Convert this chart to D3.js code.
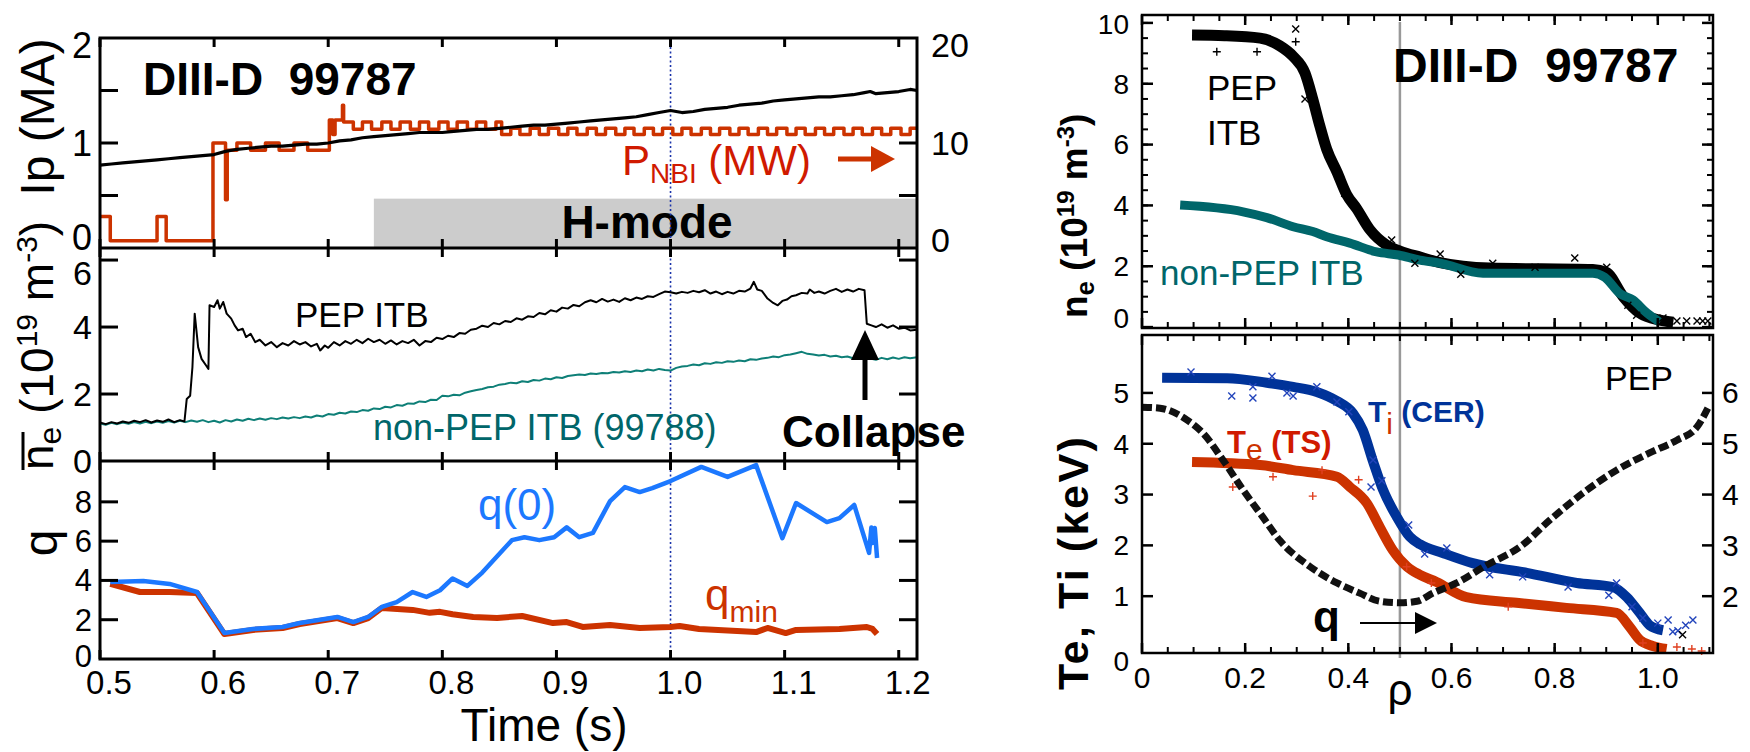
<!DOCTYPE html>
<html>
<head>
<meta charset="utf-8">
<script src="https://cdn.jsdelivr.net/npm/d3@7"></script>
<style>
  body { margin: 0; background: #fff; }
  svg { display: block; font-family: "Liberation Sans", Arial, sans-serif; }
</style>
</head>
<body>
<svg id="chart" width="1750" height="752"></svg>
<script>
// ---------- time traces (shot 99787, non-PEP 99788) ----------
const timeTicks = [0.5, 0.6, 0.7, 0.8, 0.9, 1.0, 1.1, 1.2];
const timeTickLabels = ['0.5', '0.6', '0.7', '0.8', '0.9', '1.0', '1.1', '1.2'];
const ipTickLabels = [0, 1, 2];
const pnbiTickLabels = [0, 10, 20];
const neTickLabels = [0, 2, 4, 6];
const qTickLabels = [0, 2, 4, 6, 8];
const hmodeStart = 0.74;   // s
const hmodeHeight = 0.47;  // MA units of the top panel
const sliceTime = 1.0;

// plasma current (MA)
const ipTrace = [
  [0.50, 0.79], [0.51, 0.80], [0.52, 0.81], [0.53, 0.82], [0.54, 0.83], [0.55, 0.84],
  [0.56, 0.85], [0.57, 0.86], [0.58, 0.87], [0.59, 0.88], [0.60, 0.89], [0.61, 0.92],
  [0.62, 0.94], [0.63, 0.95], [0.64, 0.96], [0.65, 0.97], [0.66, 0.97], [0.67, 0.98],
  [0.68, 0.99], [0.69, 0.99], [0.70, 1.00], [0.71, 1.02], [0.72, 1.03], [0.73, 1.05],
  [0.74, 1.06], [0.75, 1.07], [0.76, 1.08], [0.77, 1.09], [0.78, 1.10], [0.79, 1.10],
  [0.80, 1.10], [0.81, 1.11], [0.82, 1.12], [0.83, 1.13], [0.84, 1.13], [0.85, 1.14],
  [0.86, 1.15], [0.87, 1.16], [0.88, 1.17], [0.89, 1.17], [0.90, 1.18], [0.91, 1.19],
  [0.92, 1.20], [0.93, 1.21], [0.94, 1.22], [0.95, 1.23], [0.96, 1.24], [0.97, 1.25],
  [0.98, 1.27], [0.99, 1.29], [1.00, 1.31], [1.01, 1.29], [1.02, 1.30], [1.03, 1.32],
  [1.04, 1.33], [1.05, 1.34], [1.06, 1.36], [1.07, 1.37], [1.08, 1.38], [1.09, 1.40],
  [1.10, 1.41], [1.11, 1.42], [1.12, 1.43], [1.13, 1.44], [1.14, 1.44], [1.15, 1.45],
  [1.16, 1.46], [1.17, 1.48], [1.175, 1.49], [1.18, 1.47], [1.19, 1.48], [1.20, 1.49],
  [1.21, 1.51], [1.216, 1.50]
];

// neutral beam power (MW), step changes
const pnbiSteps = [
  [0.500, 3.0], [0.509, 0.7], [0.550, 3.0], [0.558, 0.7], [0.599, 10.0], [0.610, 4.6],
  [0.6115, 9.3], [0.620, 10.0], [0.632, 9.3], [0.645, 10.0], [0.657, 9.3], [0.670, 10.0],
  [0.682, 9.3], [0.701, 12.2], [0.704, 10.8], [0.706, 12.2], [0.7125, 13.6], [0.7135, 12.0],
  [0.722, 11.3], [0.730, 12.0], [0.738, 11.3], [0.747, 12.0], [0.755, 11.3], [0.763, 12.0],
  [0.772, 11.3], [0.780, 12.0], [0.788, 11.3], [0.797, 12.0], [0.805, 11.3], [0.813, 12.0],
  [0.822, 11.3], [0.830, 12.0], [0.838, 11.3], [0.847, 12.0], [0.852, 10.8], [0.860, 11.4],
  [0.868, 10.8], [0.877, 11.4], [0.885, 10.8], [0.893, 11.4], [0.902, 10.8], [0.910, 11.4],
  [0.918, 10.8], [0.927, 11.4], [0.935, 10.8], [0.943, 11.4], [0.952, 10.8], [0.960, 11.4],
  [0.968, 10.8], [0.977, 11.4], [0.985, 10.8], [0.993, 11.4], [1.002, 10.8], [1.010, 11.4],
  [1.018, 10.8], [1.027, 11.4], [1.035, 10.8], [1.043, 11.4], [1.052, 10.8], [1.060, 11.4],
  [1.068, 10.8], [1.077, 11.4], [1.085, 10.8], [1.093, 11.4], [1.102, 10.8], [1.110, 11.4],
  [1.118, 10.8], [1.127, 11.4], [1.135, 10.8], [1.143, 11.4], [1.152, 10.8], [1.160, 11.4],
  [1.168, 10.8], [1.177, 11.4], [1.185, 10.8], [1.193, 11.4], [1.202, 10.8], [1.210, 11.4],
  [1.216, 11.4]
];

// line-averaged density (1e19 m-3)
const neLinePep = [
  [0.500, 1.15], [0.505, 1.10], [0.510, 1.16], [0.515, 1.12], [0.520, 1.18], [0.525, 1.14],
  [0.530, 1.20], [0.535, 1.16], [0.540, 1.22], [0.545, 1.15], [0.550, 1.21], [0.555, 1.17],
  [0.560, 1.24], [0.565, 1.16], [0.570, 1.22], [0.574, 1.18], [0.576, 1.85], [0.579, 1.95],
  [0.581, 2.80], [0.583, 4.40], [0.586, 3.40], [0.589, 3.05], [0.593, 2.85], [0.595, 2.75],
  [0.596, 4.65], [0.600, 4.60], [0.603, 4.80], [0.605, 4.55], [0.608, 4.75], [0.611, 4.40],
  [0.615, 4.25], [0.618, 4.05], [0.621, 3.90], [0.625, 3.95], [0.628, 3.70], [0.632, 3.80],
  [0.636, 3.55], [0.640, 3.62], [0.645, 3.45], [0.650, 3.55], [0.655, 3.40], [0.660, 3.52],
  [0.665, 3.45], [0.670, 3.58], [0.675, 3.48], [0.680, 3.55], [0.685, 3.42], [0.690, 3.50],
  [0.693, 3.30], [0.697, 3.45], [0.700, 3.38], [0.705, 3.55], [0.710, 3.45], [0.715, 3.58],
  [0.720, 3.50], [0.725, 3.62], [0.730, 3.52], [0.735, 3.65], [0.740, 3.55], [0.745, 3.62],
  [0.750, 3.50], [0.755, 3.60], [0.760, 3.48], [0.765, 3.58], [0.770, 3.52], [0.775, 3.62],
  [0.780, 3.45], [0.785, 3.58], [0.790, 3.55], [0.795, 3.68], [0.800, 3.64], [0.805, 3.74],
  [0.810, 3.70], [0.815, 3.82], [0.820, 3.80], [0.825, 3.92], [0.830, 3.95], [0.835, 4.04],
  [0.840, 4.00], [0.845, 4.12], [0.850, 4.08], [0.855, 4.18], [0.860, 4.15], [0.865, 4.26],
  [0.870, 4.22], [0.875, 4.32], [0.880, 4.30], [0.885, 4.42], [0.890, 4.38], [0.895, 4.50],
  [0.900, 4.46], [0.905, 4.58], [0.910, 4.55], [0.915, 4.66], [0.920, 4.62], [0.925, 4.74],
  [0.930, 4.80], [0.935, 4.74], [0.940, 4.84], [0.945, 4.76], [0.950, 4.82], [0.955, 4.75],
  [0.960, 4.86], [0.965, 4.80], [0.970, 4.88], [0.975, 4.84], [0.980, 4.92], [0.985, 4.90],
  [0.990, 4.98], [0.995, 5.06], [1.000, 5.04], [1.005, 5.00], [1.010, 5.05], [1.015, 5.02],
  [1.020, 5.08], [1.025, 5.04], [1.030, 5.10], [1.035, 5.00], [1.040, 5.06], [1.045, 4.98],
  [1.050, 5.05], [1.055, 5.00], [1.060, 5.08], [1.065, 5.06], [1.070, 5.15], [1.073, 5.35],
  [1.076, 5.12], [1.080, 5.08], [1.085, 4.85], [1.090, 4.72], [1.094, 4.65], [1.098, 4.78],
  [1.102, 4.82], [1.106, 4.92], [1.110, 4.95], [1.115, 5.02], [1.120, 5.00], [1.122, 5.12],
  [1.126, 5.02], [1.130, 5.06], [1.135, 5.00], [1.140, 5.08], [1.145, 5.14], [1.150, 5.05],
  [1.155, 5.12], [1.160, 5.06], [1.165, 5.14], [1.170, 5.10], [1.172, 4.10], [1.176, 4.05],
  [1.180, 4.00], [1.185, 4.08], [1.190, 3.98], [1.195, 4.05], [1.200, 3.95], [1.205, 3.98],
  [1.210, 3.90], [1.216, 3.92]
];

const neLineNonPep = [
  [0.500, 1.12], [0.505, 1.08], [0.510, 1.14], [0.515, 1.10], [0.520, 1.15], [0.525, 1.11],
  [0.530, 1.16], [0.535, 1.12], [0.540, 1.17], [0.545, 1.13], [0.550, 1.18], [0.555, 1.14],
  [0.560, 1.19], [0.565, 1.15], [0.570, 1.20], [0.575, 1.16], [0.580, 1.21], [0.585, 1.17],
  [0.590, 1.22], [0.595, 1.16], [0.600, 1.20], [0.605, 1.15], [0.610, 1.22], [0.615, 1.18],
  [0.620, 1.24], [0.625, 1.20], [0.630, 1.26], [0.635, 1.22], [0.640, 1.27], [0.645, 1.23],
  [0.650, 1.28], [0.655, 1.25], [0.660, 1.30], [0.665, 1.27], [0.670, 1.31], [0.675, 1.28],
  [0.680, 1.33], [0.685, 1.30], [0.690, 1.36], [0.695, 1.33], [0.700, 1.40], [0.705, 1.38],
  [0.710, 1.44], [0.715, 1.42], [0.720, 1.48], [0.725, 1.46], [0.730, 1.52], [0.735, 1.50],
  [0.740, 1.57], [0.745, 1.55], [0.750, 1.62], [0.755, 1.60], [0.760, 1.67], [0.765, 1.65],
  [0.770, 1.72], [0.775, 1.71], [0.780, 1.78], [0.785, 1.76], [0.790, 1.83], [0.795, 1.82],
  [0.800, 1.95], [0.805, 1.93], [0.810, 1.98], [0.815, 1.96], [0.820, 2.04], [0.825, 2.08],
  [0.830, 2.12], [0.835, 2.15], [0.840, 2.20], [0.845, 2.22], [0.850, 2.28], [0.855, 2.30],
  [0.860, 2.34], [0.865, 2.32], [0.870, 2.38], [0.875, 2.36], [0.880, 2.42], [0.885, 2.40],
  [0.890, 2.46], [0.895, 2.44], [0.900, 2.50], [0.905, 2.48], [0.910, 2.54], [0.915, 2.56],
  [0.920, 2.58], [0.925, 2.57], [0.930, 2.61], [0.935, 2.60], [0.940, 2.63], [0.945, 2.62],
  [0.950, 2.66], [0.955, 2.64], [0.960, 2.68], [0.965, 2.66], [0.970, 2.70], [0.975, 2.68],
  [0.980, 2.73], [0.985, 2.70], [0.990, 2.75], [0.995, 2.72], [1.000, 2.70], [1.005, 2.78],
  [1.010, 2.82], [1.015, 2.84], [1.020, 2.88], [1.025, 2.86], [1.030, 2.92], [1.035, 2.90],
  [1.040, 2.95], [1.045, 2.93], [1.050, 2.98], [1.055, 2.96], [1.060, 3.00], [1.065, 2.98],
  [1.070, 3.04], [1.075, 3.02], [1.080, 3.06], [1.085, 3.08], [1.090, 3.12], [1.095, 3.10],
  [1.100, 3.16], [1.105, 3.18], [1.110, 3.22], [1.115, 3.26], [1.120, 3.20], [1.125, 3.18],
  [1.130, 3.15], [1.135, 3.17], [1.140, 3.12], [1.145, 3.14], [1.150, 3.10], [1.155, 3.12],
  [1.160, 3.07], [1.165, 3.09], [1.170, 3.04], [1.175, 3.06], [1.180, 3.02], [1.185, 3.08],
  [1.190, 3.04], [1.195, 3.09], [1.200, 3.05], [1.205, 3.10], [1.210, 3.07], [1.216, 3.10]
];

// safety factor on axis and minimum
const q0Trace = [
  [0.509, 3.92], [0.538, 3.97], [0.561, 3.82], [0.585, 3.41], [0.609, 1.32], [0.634, 1.53],
  [0.660, 1.63], [0.675, 1.83], [0.708, 2.14], [0.722, 1.88], [0.735, 2.14], [0.747, 2.65],
  [0.760, 2.90], [0.774, 3.41], [0.786, 3.16], [0.798, 3.50], [0.809, 4.10], [0.822, 3.72],
  [0.835, 4.40], [0.861, 6.05], [0.872, 6.20], [0.885, 6.05], [0.898, 6.20], [0.909, 6.70],
  [0.920, 6.20], [0.932, 6.42], [0.947, 8.04], [0.960, 8.75], [0.973, 8.50], [0.984, 8.70],
  [1.000, 9.06], [1.027, 9.78], [1.050, 9.27], [1.075, 9.87], [1.098, 6.15], [1.110, 7.94],
  [1.137, 6.97], [1.148, 7.17], [1.161, 7.84], [1.174, 5.40], [1.176, 6.70], [1.177, 5.90],
  [1.179, 6.67], [1.181, 5.14]
];

const qminTrace = [
  [0.509, 3.82], [0.535, 3.41], [0.561, 3.41], [0.585, 3.36], [0.609, 1.27], [0.634, 1.48],
  [0.660, 1.58], [0.675, 1.78], [0.708, 2.08], [0.722, 1.83], [0.735, 2.08], [0.747, 2.60],
  [0.774, 2.50], [0.789, 2.35], [0.798, 2.40], [0.809, 2.28], [0.827, 2.14], [0.848, 2.09],
  [0.870, 2.19], [0.897, 1.83], [0.909, 1.88], [0.923, 1.63], [0.947, 1.73], [0.973, 1.58],
  [1.000, 1.63], [1.008, 1.68], [1.025, 1.53], [1.075, 1.37], [1.085, 1.58], [1.101, 1.32],
  [1.110, 1.48], [1.148, 1.53], [1.172, 1.63], [1.177, 1.53], [1.181, 1.27]
];

// ---------- profiles at t = 1.0 s ----------
const rhoTicks = [0, 0.2, 0.4, 0.6, 0.8, 1.0];
const rhoTickLabels = ['0', '0.2', '0.4', '0.6', '0.8', '1.0'];
const neProfTickLabels = [0, 2, 4, 6, 8, 10];
const tempTickLabels = [0, 1, 2, 3, 4, 5];
const qProfTickLabels = [2, 3, 4, 5, 6];
const sliceRho = 0.5;

const neProfPep = [
  [0.097, 9.60], [0.160, 9.58], [0.229, 9.50], [0.267, 9.25], [0.293, 8.90], [0.316, 8.35],
  [0.331, 7.50], [0.345, 6.60], [0.358, 5.85], [0.378, 5.10], [0.397, 4.35], [0.416, 3.90],
  [0.442, 3.20], [0.474, 2.70], [0.500, 2.50], [0.539, 2.30], [0.578, 2.12], [0.674, 1.94],
  [0.874, 1.89], [0.900, 1.80], [0.933, 1.00], [0.965, 0.46], [1.004, 0.23], [1.030, 0.16]
];
const neProfNonPep = [
  [0.074, 4.01], [0.196, 3.79], [0.242, 3.60], [0.293, 3.30], [0.331, 3.14], [0.358, 2.97],
  [0.403, 2.76], [0.455, 2.47], [0.497, 2.37], [0.539, 2.20], [0.578, 2.10], [0.661, 1.77],
  [0.874, 1.77], [0.897, 1.64], [0.926, 1.11], [0.952, 0.89], [0.979, 0.46], [1.004, 0.16]
];
// Thomson points: [rho, ne, marker]
const nePoints = [
  [0.145, 9.05, '+'], [0.223, 9.05, '+'], [0.298, 9.80, 'x'], [0.298, 9.38, '+'],
  [0.316, 7.50, 'x'], [0.393, 4.40, 'x'], [0.484, 2.86, 'x'], [0.529, 2.10, 'x'],
  [0.578, 2.40, 'x'], [0.618, 1.74, 'x'], [0.680, 2.10, 'x'], [0.762, 1.97, 'x'],
  [0.839, 2.27, 'x'], [0.901, 1.97, 'x'], [0.942, 0.72, 'x'], [0.959, 0.39, 'x'],
  [1.010, 0.30, 'x'], [1.037, 0.20, 'x'], [1.056, 0.20, 'x'], [1.076, 0.20, 'x'],
  [1.087, 0.20, 'x'], [1.097, 0.20, 'x']
];

const tiProf = [
  [0.039, 5.30], [0.165, 5.29], [0.242, 5.20], [0.293, 5.12], [0.339, 5.02], [0.378, 4.84],
  [0.409, 4.60], [0.428, 4.27], [0.448, 3.65], [0.467, 3.10], [0.494, 2.56], [0.519, 2.17],
  [0.539, 2.02], [0.583, 1.85], [0.641, 1.65], [0.746, 1.46], [0.843, 1.26], [0.913, 1.18],
  [0.940, 0.98], [0.965, 0.67], [0.984, 0.43], [1.010, 0.33]
];
const teProf = [
  [0.097, 3.64], [0.229, 3.58], [0.293, 3.48], [0.378, 3.35], [0.403, 3.15], [0.436, 2.83],
  [0.461, 2.36], [0.486, 1.91], [0.514, 1.58], [0.539, 1.42], [0.571, 1.28], [0.629, 0.98],
  [0.726, 0.87], [0.823, 0.77], [0.920, 0.67], [0.946, 0.39], [0.965, 0.14], [0.990, 0.02],
  [1.017, -0.04]
];
const qProf = [
  [0.000, 5.72], [0.035, 5.70], [0.087, 5.47], [0.118, 5.21], [0.157, 4.68], [0.196, 4.09],
  [0.234, 3.56], [0.267, 3.10], [0.326, 2.58], [0.378, 2.26], [0.422, 2.06], [0.461, 1.90],
  [0.500, 1.87], [0.533, 1.90], [0.564, 2.06], [0.610, 2.26], [0.668, 2.61], [0.733, 2.97],
  [0.791, 3.50], [0.855, 4.03], [0.920, 4.48], [0.984, 4.82], [1.037, 5.07], [1.076, 5.33],
  [1.100, 5.76]
];
const tiPoints = [
  [0.095, 5.41], [0.174, 4.94], [0.215, 5.12], [0.215, 4.90], [0.252, 5.33], [0.281, 5.00],
  [0.293, 4.94], [0.339, 5.12], [0.378, 4.82], [0.401, 4.63], [0.448, 3.68], [0.444, 3.15],
  [0.465, 3.27], [0.517, 2.40], [0.548, 1.83], [0.591, 1.95], [0.674, 1.42], [0.738, 1.38],
  [0.826, 1.18], [0.905, 1.02], [0.920, 1.26], [0.950, 0.79], [0.971, 0.57], [1.000, 0.47],
  [1.020, 0.53], [1.029, 0.30], [1.039, 0.32], [1.054, 0.43], [1.068, 0.53]
];
const tePoints = [
  [0.176, 3.15], [0.254, 3.35], [0.331, 2.97], [0.349, 3.48], [0.420, 3.29], [0.513, 1.58],
  [0.561, 1.26], [0.710, 0.79], [0.971, 0.08], [1.037, 0.00], [1.066, -0.04], [1.085, -0.08]
];
const edgePoints = [[1.048, 0.24]];

// ---------- colours ----------
const RED = '#cc3300';
const LABEL_RED = '#d01a00';
const BLUE_Q = '#1c78ff';
const TEAL = '#0e7f77';
const TEAL_DARK = '#00666a';
const TI_BLUE = '#003399';

const svg = d3.select('#chart');

// ---------- scales ----------
const tX = d3.scaleLinear().domain([0.5, 1.216]).range([100, 917]);
const ipY = d3.scaleLinear().domain([0, 2]).range([248, 38]);
const pY = d3.scaleLinear().domain([0, 20]).range([248, 38]);
const neY = d3.scaleLinear().domain([0, 6.36]).range([461, 248]);
const qY = d3.scaleLinear().domain([0, 10.08]).range([659, 461]);

const rX = d3.scaleLinear().domain([0, 1.107]).range([1142, 1713]);
const nepY = d3.scaleLinear().domain([-0.03, 10.26]).range([328, 15]);
const tY = d3.scaleLinear().domain([-0.118, 6.14]).range([653, 335]);
const qpY = d3.scaleLinear().domain([0.882, 7.14]).range([653, 335]);

// ---------- helpers ----------
function trace(g, data, xs, ys, color, width, curve) {
  return g.append('path')
    .datum(data)
    .attr('fill', 'none')
    .attr('stroke', color)
    .attr('stroke-width', width)
    .attr('stroke-linejoin', 'round')
    .attr('d', d3.line().x(d => xs(d[0])).y(d => ys(d[1])).curve(curve || d3.curveLinear));
}

function vTicks(g, values, xs, y, len, w) {
  g.append('g').selectAll('line').data(values).join('line')
    .attr('x1', d => xs(d)).attr('x2', d => xs(d))
    .attr('y1', y).attr('y2', y + len)
    .attr('stroke', '#000').attr('stroke-width', w);
}

function hTicks(g, values, ys, x, len, w) {
  g.append('g').selectAll('line').data(values).join('line')
    .attr('y1', d => ys(d)).attr('y2', d => ys(d))
    .attr('x1', x).attr('x2', x + len)
    .attr('stroke', '#000').attr('stroke-width', w);
}

function yLabels(g, values, ys, x, anchor, size, nudge) {
  g.append('g').selectAll('text').data(values).join('text')
    .attr('x', x)
    .attr('y', d => ys(d) + ((nudge && nudge[d]) || 0))
    .attr('dy', '0.35em')
    .attr('text-anchor', anchor)
    .attr('font-size', size)
    .text(d => d);
}

function frame(g, x0, y0, x1, y1, w) {
  g.append('rect')
    .attr('x', x0).attr('y', y0)
    .attr('width', x1 - x0).attr('height', y1 - y0)
    .attr('fill', 'none').attr('stroke', '#000').attr('stroke-width', w);
}

function markPath(cx, cy, type) {
  const s = type === '+' ? 4 : 3.5;
  if (type === '+') return `M${cx - s},${cy}H${cx + s}M${cx},${cy - s}V${cy + s}`;
  return `M${cx - s},${cy - s}L${cx + s},${cy + s}M${cx - s},${cy + s}L${cx + s},${cy - s}`;
}

function marks(g, pts, xs, ys, color, type) {
  g.append('g').selectAll('path').data(pts).join('path')
    .attr('d', d => markPath(xs(d[0]), ys(d[1]), d[2] || type))
    .attr('stroke', color).attr('stroke-width', 1.4).attr('fill', 'none');
}

function arrowHead(g, pts, color) {
  g.append('polygon').attr('points', pts.map(p => p.join(',')).join(' ')).attr('fill', color);
}

// =========================================================
// left column: time traces
// =========================================================
const left = svg.append('g');

// H-mode band
left.append('rect')
  .attr('x', tX(hmodeStart)).attr('y', ipY(hmodeHeight))
  .attr('width', tX.range()[1] - tX(hmodeStart))
  .attr('height', ipY(0) - ipY(hmodeHeight))
  .attr('fill', '#cccccc');
left.append('text')
  .attr('x', 647).attr('y', 238)
  .attr('text-anchor', 'middle')
  .attr('font-size', 46).attr('font-weight', 'bold')
  .text('H-mode');

// dotted line at the profile time
left.append('line')
  .attr('x1', tX(sliceTime)).attr('x2', tX(sliceTime))
  .attr('y1', ipY(2)).attr('y2', qY(0))
  .attr('stroke', '#1a33aa').attr('stroke-width', 1.6)
  .attr('stroke-dasharray', '2,2.5');

trace(left, pnbiSteps, tX, pY, RED, 3.5, d3.curveStepAfter);
trace(left, ipTrace, tX, ipY, '#000', 3.2);
trace(left, neLineNonPep, tX, neY, TEAL, 2);
trace(left, neLinePep, tX, neY, '#000', 2);
trace(left, qminTrace, tX, qY, RED, 6);
trace(left, q0Trace, tX, qY, BLUE_Q, 4.5);

// frames and ticks
const panelEdges = [ipY(2), ipY(0), neY(0), qY(0)];
frame(left, 100, panelEdges[0], 917, panelEdges[3], 3);
[1, 2].forEach(i => {
  left.append('line').attr('x1', 100).attr('x2', 917)
    .attr('y1', panelEdges[i]).attr('y2', panelEdges[i])
    .attr('stroke', '#000').attr('stroke-width', 3);
});
panelEdges.forEach((y, i) => {
  if (i > 0) vTicks(left, timeTicks, tX, y, -9, 3);
  if (i < 3) vTicks(left, timeTicks, tX, y, 9, 3);
});
hTicks(left, [0.5, 1, 1.5], ipY, 100, 18, 3);
hTicks(left, [5, 10], pY, 917, -18, 3);
hTicks(left, [2, 4, 6], neY, 100, 18, 3);
hTicks(left, [2, 4, 6], neY, 917, -18, 3);
hTicks(left, [2, 4, 6, 8], qY, 100, 18, 3);
hTicks(left, [2, 4, 6, 8], qY, 917, -18, 3);

// tick labels
yLabels(left, ipTickLabels, ipY, 92, 'end', 36, {0: -11, 2: 7});
yLabels(left, pnbiTickLabels, pY, 931, 'start', 34, {0: -8, 20: 7});
yLabels(left, neTickLabels, neY, 92, 'end', 34, {6: 13});
yLabels(left, qTickLabels, qY, 92, 'end', 31, {0: -3});
left.append('g').selectAll('text').data(timeTicks).join('text')
  .attr('x', d => tX(d) + 9).attr('y', 694)
  .attr('text-anchor', 'middle').attr('font-size', 33)
  .text((d, i) => timeTickLabels[i]);
left.append('text')
  .attr('x', 544).attr('y', 741)
  .attr('text-anchor', 'middle').attr('font-size', 46)
  .text('Time (s)');

// rotated axis titles
left.append('text')
  .attr('transform', 'translate(54,117) rotate(-90)')
  .attr('text-anchor', 'middle').attr('font-size', 48)
  .style('white-space', 'pre')
  .text('Ip (MA)');
const neTitle = left.append('text')
  .attr('transform', 'translate(53,470) rotate(-90)')
  .attr('font-size', 46).style('white-space', 'pre');
neTitle.append('tspan').text('n');
neTitle.append('tspan').attr('font-size', 32).attr('dy', 8).text('e');
neTitle.append('tspan').attr('dy', -8).text(' (10');
neTitle.append('tspan').attr('font-size', 30).attr('dy', -16).text('19');
neTitle.append('tspan').attr('dy', 16).text(' m');
neTitle.append('tspan').attr('font-size', 30).attr('dy', -16).text('-3');
neTitle.append('tspan').attr('dy', 16).text(')');
left.append('line')
  .attr('x1', 23).attr('x2', 23).attr('y1', 470).attr('y2', 432)
  .attr('stroke', '#000').attr('stroke-width', 3);
left.append('text')
  .attr('transform', 'translate(57,543) rotate(-90)')
  .attr('text-anchor', 'middle').attr('font-size', 48)
  .text('q');

// annotations
left.append('text')
  .attr('x', 143).attr('y', 95)
  .attr('font-size', 46).attr('font-weight', 'bold')
  .style('white-space', 'pre')
  .text('DIII-D  99787');

const pLab = left.append('text').attr('x', 622).attr('y', 175)
  .attr('font-size', 42).attr('fill', LABEL_RED).style('white-space', 'pre');
pLab.append('tspan').text('P');
pLab.append('tspan').attr('font-size', 28).attr('dy', 8).text('NBI');
pLab.append('tspan').attr('dy', -8).text(' (MW)');
left.append('line').attr('x1', 838).attr('x2', 874).attr('y1', 159).attr('y2', 159)
  .attr('stroke', RED).attr('stroke-width', 5);
arrowHead(left, [[871, 146], [895, 159], [871, 172]], RED);

left.append('text')
  .attr('x', 295).attr('y', 327)
  .attr('font-size', 35)
  .text('PEP ITB');
left.append('text')
  .attr('x', 373).attr('y', 440)
  .attr('font-size', 36).attr('fill', TEAL_DARK)
  .text('non-PEP ITB (99788)');
left.append('text')
  .attr('x', 782).attr('y', 447)
  .attr('font-size', 44).attr('font-weight', 'bold')
  .text('Collapse');
left.append('line').attr('x1', 865).attr('x2', 865).attr('y1', 400).attr('y2', 356)
  .attr('stroke', '#000').attr('stroke-width', 5);
arrowHead(left, [[851, 360], [865, 330], [879, 360]], '#000');

left.append('text')
  .attr('x', 478).attr('y', 520)
  .attr('font-size', 44).attr('fill', BLUE_Q)
  .text('q(0)');
const qminLab = left.append('text').attr('x', 705).attr('y', 610)
  .attr('font-size', 44).attr('fill', RED);
qminLab.append('tspan').text('q');
qminLab.append('tspan').attr('font-size', 30).attr('dy', 12).text('min');

// =========================================================
// right column: profiles
// =========================================================
const right = svg.append('g');

// rho = 0.5 marker line
right.append('line')
  .attr('x1', rX(sliceRho)).attr('x2', rX(sliceRho))
  .attr('y1', 22).attr('y2', 658)
  .attr('stroke', '#999').attr('stroke-width', 2.5);

// density
trace(right, neProfPep, rX, nepY, '#000', 11, d3.curveMonotoneX).attr('stroke-linecap', 'butt');
trace(right, neProfNonPep, rX, nepY, TEAL_DARK, 9, d3.curveMonotoneX);
marks(right, nePoints, rX, nepY, '#000');

// temperatures and q
trace(right, teProf, rX, tY, RED, 10, d3.curveMonotoneX);
trace(right, tiProf, rX, tY, TI_BLUE, 10, d3.curveMonotoneX);
marks(right, tiPoints, rX, tY, '#2244bb', 'x');
marks(right, tePoints, rX, tY, '#e04020', '+');
marks(right, edgePoints, rX, tY, '#000', 'x');
trace(right, qProf, rX, qpY, '#111', 7, d3.curveMonotoneX).attr('stroke-dasharray', '10,4');

// frames
frame(right, 1142, 15, 1713, 328, 2.5);
frame(right, 1142, 335, 1713, 653, 2.5);

// ticks
const rhoMinor = rX.ticks(22);
vTicks(right, rhoMinor, rX, 15, 6, 2);
vTicks(right, rhoMinor, rX, 328, -6, 2);
vTicks(right, rhoMinor, rX, 335, 6, 2);
vTicks(right, rhoMinor, rX, 653, -6, 2);
vTicks(right, rhoTicks, rX, 15, 10, 2.5);
vTicks(right, rhoTicks, rX, 328, -10, 2.5);
vTicks(right, rhoTicks, rX, 335, 10, 2.5);
vTicks(right, rhoTicks, rX, 653, -10, 2.5);
const neMinor = d3.range(0, 10.01, 0.5);
hTicks(right, neMinor, nepY, 1142, 6, 2);
hTicks(right, neMinor, nepY, 1713, -6, 2);
hTicks(right, neProfTickLabels, nepY, 1142, 11, 2.5);
hTicks(right, neProfTickLabels, nepY, 1713, -11, 2.5);
hTicks(right, [1, 2, 3, 4, 5], tY, 1142, 11, 2.5);
hTicks(right, qProfTickLabels, qpY, 1713, -11, 2.5);

// tick labels
yLabels(right, neProfTickLabels, nepY, 1129, 'end', 28, {0: -9, 10: 1});
yLabels(right, tempTickLabels, tY, 1129, 'end', 28, {0: 14});
yLabels(right, qProfTickLabels, qpY, 1722, 'start', 30);
right.append('g').selectAll('text').data(rhoTicks).join('text')
  .attr('x', d => rX(d)).attr('y', 688)
  .attr('text-anchor', 'middle').attr('font-size', 30)
  .text((d, i) => rhoTickLabels[i]);
right.append('text')
  .attr('x', 1400).attr('y', 705)
  .attr('text-anchor', 'middle').attr('font-size', 44)
  .text('ρ');

// rotated titles
const neProfTitle = right.append('text')
  .attr('transform', 'translate(1087,318) rotate(-90)')
  .attr('font-size', 37).attr('font-weight', 'bold').style('white-space', 'pre');
neProfTitle.append('tspan').text('n');
neProfTitle.append('tspan').attr('font-size', 26).attr('dy', 7).text('e');
neProfTitle.append('tspan').attr('dy', -7).text(' (10');
neProfTitle.append('tspan').attr('font-size', 24).attr('dy', -13).text('19');
neProfTitle.append('tspan').attr('dy', 13).text(' m');
neProfTitle.append('tspan').attr('font-size', 24).attr('dy', -13).text('-3');
neProfTitle.append('tspan').attr('dy', 13).text(')');
right.append('text')
  .attr('transform', 'translate(1088,690) rotate(-90)')
  .attr('font-size', 43).attr('font-weight', 'bold').style('white-space', 'pre')
  .attr('letter-spacing', 2.5)
  .text('Te, Ti (keV)');

// annotations
right.append('text')
  .attr('x', 1393).attr('y', 82)
  .attr('font-size', 48).attr('font-weight', 'bold')
  .style('white-space', 'pre')
  .text('DIII-D  99787');
right.append('text').attr('x', 1207).attr('y', 100).attr('font-size', 35).text('PEP');
right.append('text').attr('x', 1207).attr('y', 145).attr('font-size', 35).text('ITB');
right.append('text')
  .attr('x', 1160).attr('y', 285)
  .attr('font-size', 35).attr('fill', TEAL_DARK)
  .text('non-PEP ITB');

const tiLab = right.append('text').attr('x', 1368).attr('y', 422)
  .attr('font-size', 30).attr('font-weight', 'bold').attr('fill', TI_BLUE)
  .style('white-space', 'pre');
tiLab.append('tspan').text('T');
tiLab.append('tspan').attr('font-weight', 'normal').attr('font-size', 30)
  .attr('fill', RED).attr('dy', 12).text('i');
tiLab.append('tspan').attr('dy', -12).text(' (CER)');

const teLab = right.append('text').attr('x', 1227).attr('y', 453)
  .attr('font-size', 31).attr('font-weight', 'bold').attr('fill', LABEL_RED)
  .style('white-space', 'pre');
teLab.append('tspan').text('T');
teLab.append('tspan').attr('font-weight', 'normal').attr('font-size', 30)
  .attr('fill', RED).attr('dy', 7).text('e');
teLab.append('tspan').attr('dy', -7).text(' (TS)');

right.append('text').attr('x', 1605).attr('y', 390).attr('font-size', 34).text('PEP');

right.append('text')
  .attr('x', 1313).attr('y', 632)
  .attr('font-size', 44).attr('font-weight', 'bold')
  .text('q');
right.append('line').attr('x1', 1360).attr('x2', 1418).attr('y1', 623).attr('y2', 623)
  .attr('stroke', '#000').attr('stroke-width', 2);
arrowHead(right, [[1415, 612], [1437, 623], [1415, 634]], '#000');
</script>
</body>
</html>
